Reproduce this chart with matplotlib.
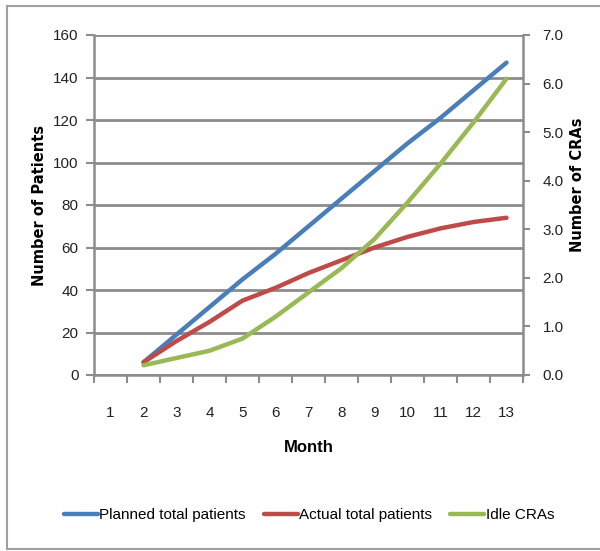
import matplotlib
matplotlib.use("Agg")
import matplotlib.pyplot as plt
from matplotlib.lines import Line2D
import numpy as np

# data
months = [1, 2, 3, 4, 5, 6, 7, 8, 9, 10, 11, 12, 13]
line_months = [2, 3, 4, 5, 6, 7, 8, 9, 10, 11, 12, 13]
planned = [6, 19, 32, 45, 57, 70, 83, 96, 109, 121, 134, 147]
actual = [6, 16, 25, 35, 41, 48, 54, 60, 65, 69, 72, 74]
idle_cras = [0.2, 0.35, 0.5, 0.75, 1.2, 1.7, 2.2, 2.8, 3.55, 4.35, 5.2, 6.1]
left_ticks = [0, 20, 40, 60, 80, 100, 120, 140, 160]
right_ticks = [0.0, 1.0, 2.0, 3.0, 4.0, 5.0, 6.0, 7.0]

plt.rcParams['font.family'] = ['Liberation Sans', 'DejaVu Sans']

W, H = 600, 551
fig = plt.figure(figsize=(W / 100, H / 100), dpi=100)

grey = '#8c8c8c'
blue = '#4a7ebb'
red = '#be4b48'
green = '#98b954'

# chart area border: left, top and bottom only (right side runs off the picture)
x0, y_top, y_bot = 7 / W, 1 - 6 / H, 1 - 549 / H
for xs, ys in (([x0, x0], [y_bot, y_top]), ([x0, 1], [y_top, y_top]), ([x0, 1], [y_bot, y_bot])):
    fig.add_artist(Line2D(xs, ys, transform=fig.transFigure, color='#a0a0a0', lw=1.5))

ax = fig.add_axes([94 / W, (H - 375) / H, (523 - 94) / W, (375 - 35) / H])
ax2 = ax.twinx()

ax.plot(line_months, planned, color=blue, lw=3.2, solid_capstyle='round', label='Planned total patients')
ax.plot(line_months, actual, color=red, lw=3.2, solid_capstyle='round', label='Actual total patients')
ax2.plot(line_months, idle_cras, color=green, lw=3.2, solid_capstyle='round', label='Idle CRAs')

ax.set_xlim(0.5, 13.5)
ax.set_ylim(0, 160)
ax2.set_ylim(0, 7)

ax.set_yticks(left_ticks)
ax2.set_yticks(right_ticks)
ax2.set_yticklabels([f'{v:.1f}' for v in right_ticks])

ax.set_xticks(months)
ax.set_xticklabels([str(m) for m in months])
ax.set_xticks(np.arange(0.5, 14, 1), minor=True)
ax.tick_params(axis='x', which='major', length=0, pad=22, labelsize=11, colors='#222222')
ax.tick_params(axis='x', which='minor', length=6, width=1.5, color=grey)
ax.tick_params(axis='y', length=6, width=1.5, color=grey, pad=5, labelsize=11, labelcolor='#222222')
ax2.tick_params(axis='y', length=5, width=1.5, color=grey, pad=9, labelsize=11, labelcolor='#222222')

ax.yaxis.grid(True, color=grey, linewidth=2)
ax.set_axisbelow(True)

for a in (ax, ax2):
    a.spines['top'].set_visible(False)
    for s in ('left', 'right', 'bottom'):
        a.spines[s].set_color(grey)
        a.spines[s].set_linewidth(1.8)
ax.spines['right'].set_visible(False)
ax2.spines['left'].set_visible(False)
ax2.spines['bottom'].set_visible(False)

ax.set_xlabel('Month', fontsize=12, fontweight='bold', labelpad=15)
fig.text(40 / W, 1 - 205 / H, 'Number of Patients', rotation=90, ha='center', va='center',
         family='DejaVu Sans', fontsize=10.5, fontweight='bold')
fig.text(577 / W, 1 - 185 / H, 'Number of CRAs', rotation=90, ha='center', va='center',
         family='DejaVu Sans', fontsize=10.5, fontweight='bold')

handles = ax.get_lines() + ax2.get_lines()
fig.legend(handles, [h.get_label() for h in handles], loc='center',
           bbox_to_anchor=(309 / W, 1 - 515 / H), ncol=3, frameon=False,
           fontsize=11, handlelength=2.2, handletextpad=0.1, columnspacing=1.2)

fig.savefig('out.png', dpi=100)
